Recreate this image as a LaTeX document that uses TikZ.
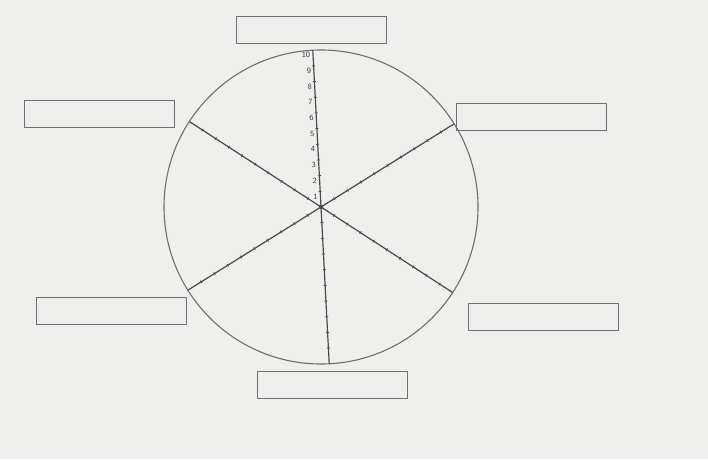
\documentclass[tikz,border=0pt]{standalone}
\usepackage{tikz}
\usetikzlibrary{positioning,calc}
\usepackage{xcolor}
\definecolor{paper}{HTML}{EFEFED}
\definecolor{rimgray}{HTML}{6E6E6E}
\definecolor{spokegray}{HTML}{4A4A4A}
\definecolor{boxgray}{HTML}{707070}

\begin{document}
\begin{tikzpicture}[
  x=1pt,y=1pt,
  wheel/.style={draw=rimgray,line width=1.1pt},
  spoke/.style={draw=spokegray,line width=1.2pt},
  tickmark/.style={draw=spokegray,line width=0.8pt},
  answerbox/.style={draw=boxgray,line width=1pt,minimum width=150pt,minimum height=27pt,inner sep=0pt,outer sep=0pt},
  scalenum/.style={font=\sffamily\footnotesize,text=spokegray!80!black,inner sep=0.5pt}
]
\fill[paper] (0,0) rectangle (708,459);
\useasboundingbox (0,0) rectangle (708,459);
\coordinate (hub) at (321,252);
\draw[wheel] (hub) circle[radius=157];
% spokes with ten tick marks each
\foreach \a/\n in {93/t,32/tr,-33/br,-87/b,-148/bl,147/tl} {
  \coordinate (end\n) at ($(hub)+(\a:157)$);
  \draw[spoke] (hub) -- (end\n);
  \foreach \k in {1,...,9}
    \draw[tickmark] ($(hub)+(\a:\k*15.7)$) ++(\a+90:1.5) -- ++(\a-90:3);
}
\fill[spokegray] (hub) circle[radius=2.2];
% scale on the top spoke
\foreach \k in {1,...,10}
  \node[scalenum,anchor=east] (num\k) at ($(hub)+(93:\k*15.7-3)+(-2,-2)$) {\k};
% boxes
\node[answerbox] (boxt) at (311.5,428.5) {};
\node[answerbox] (boxtl) at (99,345) {};
\node[answerbox] (boxtr) at (531.5,342.5) {};
\node[answerbox] (boxbl) at (111,148.5) {};
\node[answerbox] (boxbr) at (543,142) {};
\node[answerbox] (boxb) at (332.5,74.5) {};
\end{tikzpicture}
\end{document}
